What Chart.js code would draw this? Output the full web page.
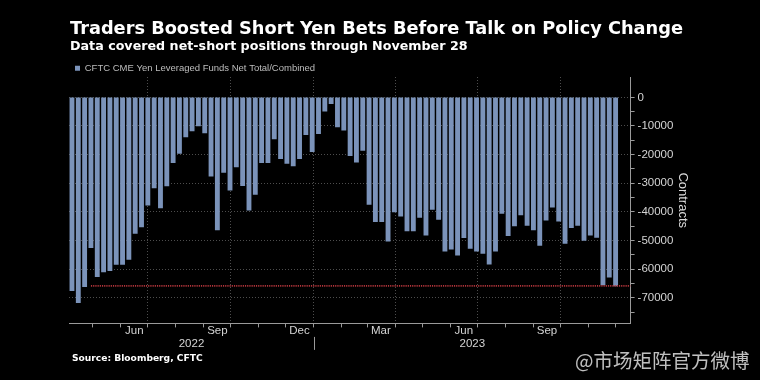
<!DOCTYPE html>
<html><head><meta charset="utf-8">
<script src="https://cdn.jsdelivr.net/npm/chart.js@4"></script>
<style>
html,body{margin:0;padding:0;background:#000;width:760px;height:380px;overflow:hidden}
#wrap{position:absolute;left:0;top:0;width:760px;height:380px}
.t{position:absolute;white-space:nowrap;line-height:1;color:#fff;font-family:"DejaVu Sans";font-weight:bold}
#wm{font-family:"Noto Sans CJK SC";font-weight:normal;color:rgba(225,225,225,0.85)}
</style></head><body>
<div id="wrap"><canvas id="c" width="760" height="380"></canvas></div>
<div class="t" id="title">Traders Boosted Short Yen Bets Before Talk on Policy Change</div>
<div class="t" id="sub">Data covered net-short positions through November 28</div>
<div class="t" id="src">Source: Bloomberg, CFTC</div>
<div class="t" id="wm">@市场矩阵官方微博</div>
<script>
// ---- data ----
const seriesName = 'CFTC CME Yen Leveraged Funds Net Total/Combined';
const startDate = '2022-04-08';          // first weekly observation
const netPositions = [
 -67500,-71700,-66100,-52500,-62600,-60900,-60500,-58300,-58300,-56600,
 -47500,-45200,-37600,-31600,-38600,-30900,-22800,-19600,-13800,-11700,
 -10000,-12400,-27500,-46300,-26200,-32400,-24300,-30800,-39400,-33900,
 -22800,-22800,-14500,-21400,-23100,-23900,-21400,-13000,-19000,-12700,
 -4800,-2200,-10300,-11500,-20400,-22600,-18500,-37400,-43400,-43400,
 -50200,-40000,-41500,-46600,-46600,-41900,-48100,-39100,-42600,-53700,
 -53000,-55100,-49000,-52700,-53700,-54500,-58200,-53700,-40500,-48300,
 -44900,-41000,-44700,-46300,-51700,-42900,-38300,-43200,-51000,-45500,
 -44700,-49900,-48100,-48900,-65500,-62800,-65800];
const monthLabels = ['Jun','Sep','Dec','Mar','Jun','Sep'];
const monthLabelDates = ['2022-06-16','2022-09-16','2022-12-16','2023-03-16','2023-06-16','2023-09-16'];
const yearLabels = ['2022','2023'];
const yearStarts = ['2022-01-01','2023-01-01','2024-01-01'];
const yTickStep = 5000;
const yLabelStep = 10000;

// ---- helpers ----
const DAY = 864e5;
const t0 = Date.parse(startDate + 'T00:00:00Z');
const day = s => (Date.parse(s + 'T00:00:00Z') - t0) / DAY;
const weekDays = netPositions.map((_, i) => i * 7);
const weekDates = weekDays.map(d => new Date(t0 + d * DAY).toISOString().slice(0, 10));
const latest = netPositions[netPositions.length - 1];

const xMin = -3.3, xMax = 618.6;
const yMin = -78900, yMax = 7100;

const GRID = '#4d4d4d', AXIS = '#9a9a9a', TXT = '#d4d4d4', NONE = 'rgba(0,0,0,0)';
const BAR = '#7b93ba';

function monthStartTicks() {
  const out = [];
  const d0 = new Date(t0 + xMin * DAY), d1 = new Date(t0 + xMax * DAY);
  let y = d0.getUTCFullYear(), m = d0.getUTCMonth() + 1;
  while (true) {
    if (m > 11) { m = 0; y++; }
    const ms = Date.UTC(y, m, 1);
    if (ms > d1.getTime()) break;
    out.push({ value: (ms - t0) / DAY, kind: (m % 3 === 0) ? 'q' : 'm' });
    m++;
  }
  return out;
}

// year separator tick below the month row, placed through the x scale
const yearSeparator = {
  id: 'yearSeparator',
  afterDraw(chart) {
    const sx = chart.scales.x, ctx = chart.ctx, b = chart.chartArea.bottom;
    yearStarts.forEach(ys => {
      const v = day(ys);
      if (v <= xMin || v >= xMax) return;
      const px = Math.round(sx.getPixelForValue(v)) + 0.5;
      ctx.save();
      ctx.strokeStyle = AXIS; ctx.lineWidth = 1;
      ctx.beginPath(); ctx.moveTo(px, b + 13.5); ctx.lineTo(px, b + 26.5); ctx.stroke();
      ctx.restore();
    });
  }
};

new Chart(document.getElementById('c'), {
  type: 'bar',
  plugins: [yearSeparator],
  data: {
    datasets: [
      { label: seriesName, data: netPositions.map((v, i) => ({ x: weekDays[i], y: v, date: weekDates[i] })),
        backgroundColor: BAR, borderWidth: 0, barThickness: 4.2, order: 1 },
      { type: 'line', label: 'latest', data: [{ x: weekDays[3], y: latest }, { x: xMax, y: latest }],
        borderColor: '#b3353b', borderWidth: 1.6, borderDash: [1.2, 1], pointRadius: 0, order: 0 }
    ]
  },
  options: {
    responsive: false, animation: false,
    layout: { padding: { left: 69, top: 57.5, right: 66, bottom: 32.9 } },
    plugins: {
      tooltip: { enabled: false },
      legend: { position: 'top', align: 'start', maxHeight: 19.5,
        labels: { boxWidth: 5, boxHeight: 5, padding: 6, color: '#bdbdbd',
          font: { family: 'Liberation Sans', size: 9.5 }, filter: it => it.datasetIndex === 0 } }
    },
    scales: {
      x: { type: 'linear', position: 'bottom', min: xMin, max: xMax, offset: false,
        afterBuildTicks: s => {
          const t = monthStartTicks();
          monthLabelDates.forEach((d, i) => t.push({ value: day(d), kind: 'l', text: monthLabels[i] }));
          yearLabels.forEach((lab, i) => {
            const a = Math.max(day(yearStarts[i]), xMin), b = Math.min(day(yearStarts[i + 1]), xMax);
            t.push({ value: (a + b) / 2, kind: 'l', text: ['', lab] });
          });
          t.sort((a, b) => a.value - b.value);
          s.ticks = t;
        },
        ticks: { autoSkip: false, maxRotation: 0, color: TXT, padding: -2.8,
          font: { family: 'Liberation Sans', size: 11.5, lineHeight: 1.1 },
          callback: (v, i, t) => t[i].text || '' },
        grid: { offset: false, tickLength: 4,
          color: c => (c.tick && c.tick.kind === 'q') ? GRID : NONE,
          tickColor: c => (c.tick && c.tick.kind !== 'l') ? AXIS : NONE },
        border: { color: AXIS, dash: [1, 2] }
      },
      y: { position: 'right', min: yMin, max: yMax,
        afterBuildTicks: s => {
          const t = [];
          for (let v = Math.ceil(yMin / yTickStep) * yTickStep; v <= 0; v += yTickStep) t.push({ value: v });
          s.ticks = t;
        },
        ticks: { autoSkip: false, color: TXT, padding: 3,
          font: { family: 'Liberation Sans', size: 11.5 },
          callback: v => (v % yLabelStep === 0) ? String(v) : '' },
        grid: { tickLength: 4, tickColor: AXIS,
          color: c => (c.tick && c.tick.value % yLabelStep === 0) ? GRID : NONE },
        border: { color: AXIS, dash: [1, 2] },
        title: { display: true, text: 'Contracts', color: '#dcdcdc',
          font: { family: 'Liberation Sans', size: 13 }, padding: { top: 4, bottom: -2 } }
      }
    }
  }
});

// ---- html text placement ----
function place(id, left, baseline, width, size, asc) {
  const el = document.getElementById(id);
  el.style.fontSize = size + 'px';
  const w = el.getBoundingClientRect().width;
  const s = width ? size * width / w : size;
  el.style.fontSize = s + 'px';
  el.style.left = left + 'px';
  el.style.top = (baseline - asc * s) + 'px';
}
place('title', 70, 35, 613, 17, 0.846);
place('sub', 70, 51, 398, 13, 0.846);
place('src', 72, 361.7, 131, 9.5, 0.846);
place('wm', 575, 368, 0, 19.5, 0.936);
</script>
</body></html>
